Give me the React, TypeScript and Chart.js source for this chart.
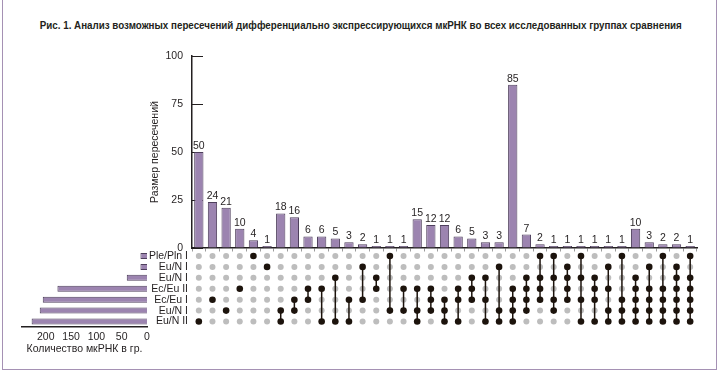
import React, { useEffect, useRef } from 'react';
import { Chart, registerables } from 'chart.js';

Chart.register(...registerables);

const titleText =
  'Рис. 1. Анализ возможных пересечений дифференциально экспрессирующихся мкРНК во всех исследованных группах сравнения';
const yAxisTitle = 'Размер пересечений';
const setAxisTitle = 'Количество мкРНК в гр.';

// Sets (matrix rows, top to bottom)
const setNames = ['Ple/Pln I', 'Eu/N I', 'Eu/N I', 'Ec/Eu II', 'Ec/Eu I', 'Eu/N I', 'Eu/N II'];
const setSizes = [13, 13, 40, 177, 206, 212, 228];
const setSizeTicks = [0, 50, 100, 150, 200];
const setSizeMax = 247;

// Intersections (columns, left to right)
const intersectionSizes = [
  50, 24, 21, 10, 4, 1,
  18, 16, 6, 6, 5, 3, 2, 1, 1, 1,
  15, 12, 12, 6, 5, 3, 3,
  85, 7, 2, 1, 1, 1, 1, 1, 1,
  10, 3, 2, 2, 1,
];
// member rows (indices into setNames) for each intersection
const intersectionSets: number[][] = [
  [6], [4], [5], [3], [0], [1],
  [5, 6], [4, 5], [3, 4], [3, 6], [2, 6], [4, 6], [1, 4], [2, 3], [0, 5], [3, 5],
  [3, 5, 6], [3, 4, 5], [4, 5, 6], [3, 4, 6], [2, 3, 4], [2, 4, 6], [1, 5, 6],
  [3, 4, 5, 6], [2, 3, 4, 5], [0, 2, 3, 4], [0, 2, 4, 5], [1, 2, 3, 4], [0, 2, 4, 6], [2, 3, 4, 6], [1, 3, 5, 6], [0, 4, 5, 6],
  [2, 3, 4, 5, 6], [1, 3, 4, 5, 6], [0, 3, 4, 5, 6], [1, 2, 3, 4, 5, 6], [0, 2, 3, 4, 5, 6],
];
const sizeAxisMin = 0;
const sizeAxisMax = 100;
const sizeAxisStep = 25;

const BAR = '#9c84b0';
const BAR_EDGE = '#4e3f5c';
const DOT = '#1c130c';
const GRAY = '#bdbdbd';
const AXIS = '#231f20';
const TEXT = '#231f20';
const FRAME = '#a591b4';
const FONT = "'Liberation Sans', Arial, sans-serif";
const TITLE_WIDTH = 642;

const valueLabels = {
  id: 'valueLabels',
  afterDatasetsDraw(chart: any) {
    const meta = chart.getDatasetMeta(0);
    const ctx = chart.ctx;
    ctx.save();
    ctx.font = `10.5px ${FONT}`;
    ctx.fillStyle = TEXT;
    ctx.textAlign = 'center';
    ctx.textBaseline = 'alphabetic';
    meta.data.forEach((el: any, i: number) => {
      ctx.fillText(String(intersectionSizes[i]), el.x, el.y - 3);
    });
    ctx.restore();
  },
};

export default function App() {
  const mainRef = useRef<HTMLCanvasElement>(null);
  const setRef = useRef<HTMLCanvasElement>(null);
  const titleRef = useRef<HTMLSpanElement>(null);

  useEffect(() => {
    Chart.defaults.font.family = FONT;
    Chart.defaults.color = TEXT;

    if (titleRef.current) {
      const w = titleRef.current.getBoundingClientRect().width;
      if (w > 0) titleRef.current.style.transform = `scaleX(${TITLE_WIDTH / w})`;
    }

    const colIds = intersectionSizes.map((_, i) => `c${i + 1}`);
    const grayPts: any[] = [];
    const blackPts: any[] = [];
    const links: any[] = [];
    intersectionSets.forEach((set, c) => {
      setNames.forEach((_, r) => {
        (set.includes(r) ? blackPts : grayPts).push({ x: colIds[c], y: r });
      });
      if (set.length > 1) {
        links.push({ x: colIds[c], y: Math.min(...set) });
        links.push({ x: colIds[c], y: Math.max(...set) });
        links.push({ x: colIds[c], y: null });
      }
    });

    const main = new Chart(mainRef.current as HTMLCanvasElement, {
      type: 'bar',
      data: {
        labels: colIds,
        datasets: [
          {
            type: 'bar',
            data: intersectionSizes,
            backgroundColor: BAR,
            borderColor: BAR_EDGE,
            borderWidth: 1,
            barPercentage: 0.68,
            categoryPercentage: 1,
            xAxisID: 'x',
            yAxisID: 'y',
            order: 4,
          },
          {
            type: 'line',
            data: grayPts,
            showLine: false,
            pointRadius: 3,
            pointBackgroundColor: GRAY,
            pointBorderWidth: 0,
            xAxisID: 'x',
            yAxisID: 'yM',
            order: 3,
          },
          {
            type: 'line',
            data: links,
            borderColor: DOT,
            borderWidth: 1.5,
            pointRadius: 0,
            spanGaps: false,
            xAxisID: 'x',
            yAxisID: 'yM',
            order: 2,
          },
          {
            type: 'line',
            data: blackPts,
            showLine: false,
            pointRadius: 3.3,
            pointBackgroundColor: DOT,
            pointBorderWidth: 0,
            xAxisID: 'x',
            yAxisID: 'yM',
            order: 1,
          },
        ] as any,
      },
      options: {
        animation: false,
        responsive: false,
        events: [],
        layout: { padding: { left: 145, right: 23, top: 56, bottom: 45 } },
        plugins: {
          legend: { display: false },
          tooltip: { enabled: false },
        },
        scales: {
          x: {
            type: 'category',
            position: { y: 0 } as any,
            offset: true,
            ticks: { display: false },
            grid: {
              display: true,
              drawOnChartArea: false,
              drawTicks: true,
              tickLength: 3,
              offset: true,
              color: '#9a9a9a',
            },
            border: { display: true, color: AXIS, width: 1.5 },
          },
          y: {
            type: 'linear',
            position: 'left',
            stack: 'upset',
            stackWeight: 192,
            weight: 1,
            min: sizeAxisMin,
            max: sizeAxisMax,
            ticks: { stepSize: sizeAxisStep, padding: 20, color: TEXT, font: { size: 10.5 } },
            grid: {
              display: true,
              drawOnChartArea: false,
              drawTicks: true,
              tickLength: -11,
              tickColor: AXIS,
              lineWidth: 1,
            },
            border: { display: true, color: AXIS, width: 1.5 },
            title: { display: true, text: yAxisTitle, color: TEXT, font: { size: 10.5 } },
            afterFit: (s: any) => {
              s.width = 47;
            },
          },
          yM: {
            type: 'linear',
            position: 'left',
            stack: 'upset',
            stackWeight: 79,
            weight: 0,
            min: -0.73,
            max: 6.5,
            reverse: true,
            afterBuildTicks: (s: any) => {
              s.ticks = setNames.map((_, i) => ({ value: i }));
            },
            ticks: {
              autoSkip: false,
              padding: 4,
              color: TEXT,
              font: { size: 10.5 },
              callback: (v: any) => setNames[Number(v)] ?? '',
            },
            grid: { display: false, drawTicks: false },
            border: { display: false },
            afterFit: (s: any) => {
              s.width = 47;
            },
          },
        } as any,
      },
      plugins: [valueLabels],
    });

    const sets = new Chart(setRef.current as HTMLCanvasElement, {
      type: 'bar',
      data: {
        labels: setNames,
        datasets: [
          {
            data: setSizes,
            backgroundColor: BAR,
            borderColor: BAR_EDGE,
            borderWidth: 1,
            barPercentage: 0.55,
            categoryPercentage: 1,
          },
        ],
      },
      options: {
        indexAxis: 'y',
        animation: false,
        responsive: false,
        events: [],
        layout: { padding: { left: 22, right: 13, top: 10.5, bottom: 0 } },
        plugins: { legend: { display: false }, tooltip: { enabled: false } },
        scales: {
          x: {
            type: 'linear',
            position: 'bottom',
            reverse: true,
            min: 0,
            max: setSizeMax,
            afterBuildTicks: (s: any) => {
              s.ticks = setSizeTicks.map((v) => ({ value: v }));
            },
            ticks: { autoSkip: false, maxRotation: 0, padding: 4, color: TEXT, font: { size: 10.5 } },
            grid: { display: false, drawTicks: false },
            border: { display: true, color: AXIS, width: 1.5 },
            title: {
              display: true,
              text: setAxisTitle,
              color: TEXT,
              font: { size: 10.5 },
              padding: { top: 4, bottom: 17 },
            },
            afterFit: (s: any) => {
              s.height = 45;
            },
          },
          y: { display: false, offset: true },
        } as any,
      },
    });

    return () => {
      main.destroy();
      sets.destroy();
    };
  }, []);

  return (
    <div
      style={{
        position: 'fixed',
        left: 0,
        top: 0,
        width: 720,
        height: 372,
        background: '#ffffff',
        overflow: 'hidden',
      }}
    >
      <div
        style={{
          position: 'absolute',
          left: 0,
          top: 19,
          width: 720,
          textAlign: 'center',
          fontFamily: FONT,
          fontWeight: 'bold',
          fontSize: 11,
          lineHeight: '12px',
          color: TEXT,
          whiteSpace: 'nowrap',
        }}
      >
        <span ref={titleRef} style={{ display: 'inline-block', transformOrigin: 'center' }}>
          {titleText}
        </span>
      </div>
      <canvas
        ref={mainRef}
        width={720}
        height={372}
        style={{ position: 'absolute', left: 0, top: 0, width: 720, height: 372 }}
      />
      <canvas
        ref={setRef}
        width={160}
        height={132}
        style={{ position: 'absolute', left: 0, top: 240, width: 160, height: 132 }}
      />
      <div
        style={{
          position: 'absolute',
          left: 2,
          top: 0,
          width: 715,
          height: 370,
          boxSizing: 'border-box',
          borderLeft: `1.5px solid ${FRAME}`,
          borderRight: `1.5px solid ${FRAME}`,
          borderBottom: `1.5px solid ${FRAME}`,
          pointerEvents: 'none',
        }}
      />
    </div>
  );
}
